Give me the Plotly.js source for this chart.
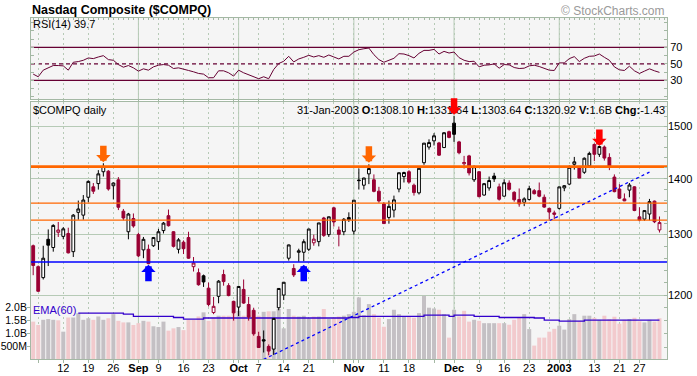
<!DOCTYPE html>
<html>
<head>
<meta charset="utf-8">
<script src="https://cdn.plot.ly/plotly-3.0.1.min.js"></script>
<style>
html,body{margin:0;padding:0;background:#ffffff;}
#chart{width:697px;height:376px;}
</style>
</head>
<body>
<div id="chart"></div>
<script>
// ---------------- data ----------------
const dates = [
'2002-08-02','2002-08-05','2002-08-06','2002-08-07','2002-08-08','2002-08-09',
'2002-08-12','2002-08-13','2002-08-14','2002-08-15','2002-08-16',
'2002-08-19','2002-08-20','2002-08-21','2002-08-22','2002-08-23',
'2002-08-26','2002-08-27','2002-08-28','2002-08-29','2002-08-30',
'2002-09-03','2002-09-04','2002-09-05','2002-09-06',
'2002-09-09','2002-09-10','2002-09-11','2002-09-12','2002-09-13',
'2002-09-16','2002-09-17','2002-09-18','2002-09-19','2002-09-20',
'2002-09-23','2002-09-24','2002-09-25','2002-09-26','2002-09-27',
'2002-09-30','2002-10-01','2002-10-02','2002-10-03','2002-10-04',
'2002-10-07','2002-10-08','2002-10-09','2002-10-10','2002-10-11',
'2002-10-14','2002-10-15','2002-10-16','2002-10-17','2002-10-18',
'2002-10-21','2002-10-22','2002-10-23','2002-10-24','2002-10-25',
'2002-10-28','2002-10-29','2002-10-30','2002-10-31','2002-11-01',
'2002-11-04','2002-11-05','2002-11-06','2002-11-07','2002-11-08',
'2002-11-11','2002-11-12','2002-11-13','2002-11-14','2002-11-15',
'2002-11-18','2002-11-19','2002-11-20','2002-11-21','2002-11-22',
'2002-11-25','2002-11-26','2002-11-27','2002-11-29',
'2002-12-02','2002-12-03','2002-12-04','2002-12-05','2002-12-06',
'2002-12-09','2002-12-10','2002-12-11','2002-12-12','2002-12-13',
'2002-12-16','2002-12-17','2002-12-18','2002-12-19','2002-12-20',
'2002-12-23','2002-12-24','2002-12-26','2002-12-27',
'2002-12-30','2002-12-31','2003-01-02','2003-01-03',
'2003-01-06','2003-01-07','2003-01-08','2003-01-09','2003-01-10',
'2003-01-13','2003-01-14','2003-01-15','2003-01-16','2003-01-17',
'2003-01-21','2003-01-22','2003-01-23','2003-01-24',
'2003-01-27','2003-01-28','2003-01-29','2003-01-30','2003-01-31'];

const open = [
1281,1246,1228,1292,1278,1304,1297,1302,1271,1339,
1334,1366,1385,1391,1413,1414,1387,1398,1341,1305,
1328,1300,1274,1275,1281,1288,1307,1333,1305,1275,
1287,1295,1246,1236,1231,1211,1172.5,1198,1233,1215,
1190,1181,1209,1185,1176,1136,1131,1121,1117,1180,
1200,1260,1243,1270,1270,1275,1286,1288,1329,1300,
1347,1308,1305,1326,1306,1397.5,1388,1409,1398,1377,
1354,1330,1343,1381,1404,1413,1388,1374,1430,1460,
1472,1468,1459,1490,1507,1470,1428,1443,1398,1413,
1370,1383,1405,1385,1368,1392,1375,1362,1357,1362,
1378,1378,1366,1346,1338,1346,1383,1390,1427,1422,
1412,1424,1465,1446,1460,1440,1403,1381,1363,1379,
1385,1331,1327,1336,1359,1308.10];

const high = [
1283,1248,1281,1309,1318,1322,1313,1312,1336,1360,
1370,1397,1392,1416,1429,1416,1393,1403,1345,1338,
1337,1303,1296,1283,1296,1310,1322,1344,1306,1294,
1290,1305,1262,1243,1233,1220,1197,1224,1241,1219,
1191,1214,1225,1197,1180,1143,1145,1124,1163.5,1210.5,
1221,1283,1250,1276,1292,1310,1300,1320.5,1331,1331.5,
1349,1314,1329,1339,1361,1419,1402,1427,1408,1385,
1357,1360,1369,1411.5,1413,1416,1391,1420,1468,1475,
1487,1470,1489,1492,1521.4,1472,1443,1445,1425,1414,
1392,1404,1411,1391,1399,1397,1377,1382,1366,1387,
1381,1393,1371,1347,1342,1385,1388,1425,1441,1424,
1440,1451,1467,1462,1463,1448,1408,1390,1373,1392,
1386,1348,1343,1363,1360,1331.64];

const low = [
1232,1205,1225,1247,1271,1296,1292,1268,1262,1326,
1326,1357,1372,1380,1404,1378,1362,1343,1325,1292,
1312,1262,1260,1250,1279,1274,1302,1314,1278,1268,
1267,1259,1238,1215,1213,1182,1170,1187,1215,1198,
1160,1167,1186,1160,1137,1119,1112,1108,1108.5,1176,
1192,1256,1229,1254,1255,1272,1281,1280,1296,1296,
1314,1280,1299,1322,1300,1380,1380,1390,1375,1356,
1319,1319,1330,1375,1393,1391,1369,1371,1426,1455,
1463,1443,1458,1477,1470,1446,1419,1406,1394,1366,
1369,1378,1394,1360,1367,1378,1358,1349,1350,1360,
1371,1366,1347,1326,1327,1344,1377,1388,1417,1401,
1409,1420,1433,1441,1434,1416,1375,1363,1359,1366,
1341,1323,1324,1325,1320,1303.64];

const close = [
1248,1206,1260,1282,1316,1308,1310,1269,1334,1345,
1361,1395,1377,1409,1423,1381,1392,1348,1329,1336,
1315,1264,1292,1251,1295,1305,1320,1315.5,1280,1291,
1276,1260,1252,1216.5,1221,1185,1182.2,1222.3,1221.6,1199.2,
1172,1213.7,1187.3,1165.6,1139.9,1119.4,1129.2,1114.1,1163.4,1210.5,
1220.5,1282.4,1232.4,1272.3,1287.9,1309.7,1292.3,1320.3,1298.7,1331.1,
1322,1300.5,1326.7,1329.8,1360.7,1396.5,1401.2,1419,1376.7,1359.3,
1319.2,1349.6,1361.3,1411.1,1411.5,1393.7,1374.5,1419.4,1467.5,1468.7,
1481.9,1444.4,1487.9,1478.8,1484.8,1449,1430.4,1410.8,1422.4,1367.1,
1390.8,1396.6,1399.6,1362.4,1392.6,1380.4,1361.5,1354.1,1363.1,1381.7,
1372.5,1367.9,1348.3,1339.5,1335.5,1384.9,1387.1,1421.3,1431.6,1401.1,
1438.5,1447.7,1446,1461,1438.8,1423.8,1376.2,1364.3,1359.5,1388.3,
1342.2,1325.3,1342.1,1358.1,1322.35,1320.92];

const priorClose = 1280.0;   // close of the session before the first bar

// volume in billions of shares
const volume = [
1.45,1.32,1.52,1.55,1.52,1.50,1.06,1.61,1.61,1.78,
1.52,1.58,1.52,1.65,1.52,1.58,1.74,1.48,1.42,1.42,
1.32,1.39,1.48,1.45,1.27,1.24,1.45,1.10,1.19,1.24,
1.12,1.52,1.52,1.65,1.81,1.48,1.61,1.68,1.68,1.68,
1.81,1.87,1.68,1.70,1.87,1.68,1.83,1.85,1.85,1.94,
1.19,1.94,1.68,1.65,1.68,1.58,1.65,1.65,1.94,1.55,
1.61,1.65,1.68,1.74,1.83,2.39,1.70,2.13,1.74,1.60,
1.25,1.55,1.91,1.74,1.65,1.65,1.60,1.78,2.45,1.99,
1.96,1.91,1.74,0.83,1.91,1.65,1.87,1.45,1.52,1.48,
1.39,1.39,1.39,1.39,1.39,1.33,1.52,1.61,1.74,1.16,
0.52,0.83,0.83,1.06,1.17,1.29,1.14,1.55,1.74,1.48,
1.68,1.68,1.60,1.52,1.68,1.55,1.64,1.37,1.52,1.55,
1.60,1.46,1.42,1.52,1.45,1.58];

// RSI(14)
const rsi = [
37.6,34.4,42.4,45.6,48,48,47.6,42.4,52,52.8,
54.4,57.2,56.4,58.4,60,55.2,54.4,49.2,46,48,
45.2,41.2,44,42.4,46.4,48.4,49.2,48.4,44.4,45.2,
43.2,42,40.4,38.4,37.6,33.2,33.2,41.6,41.6,39.2,
35.2,42.4,39.2,36.8,34.4,32,34.4,32,43.2,50.4,
53.2,59.2,52.4,56,58,60.4,58.4,60,58,60.8,
58.4,56,59.2,59.2,64.4,67.2,68.4,69.2,61.2,55.2,
52,54,56.8,62.4,62,60,57.2,62.8,66.4,66.4,
67.6,62,65.2,63.2,64.4,57.6,54.4,52.8,53.2,46.4,
48.4,48.8,50,44.8,49.2,48.8,45.6,44.4,44.8,47.6,
48.4,46.8,44.4,42.4,42,51.2,51.2,56.4,58.8,52.8,
56.8,59.2,59.6,62,58,54.4,46.4,42.8,42,47.2,
41.6,38.4,41.2,44,41.6,39.7];

// EMA(60) of volume, read as a stepped line (billions)
const emaDates  = ['2002-08-15','2002-08-28','2002-08-30','2002-09-12','2002-09-16','2002-09-20',
                   '2002-10-31','2002-11-04','2002-11-21','2002-11-29','2002-12-02','2002-12-06',
                   '2002-12-13','2002-12-24','2002-12-27','2003-01-02','2003-01-09','2003-01-31'];
const emaValues = [1.78,1.74,1.65,1.61,1.55,1.59,1.61,1.65,1.705,1.65,1.705,1.65,1.61,1.59,1.51,1.47,1.51,1.51];

// x-axis ticks / grid
const tickDates  = ['2002-08-05','2002-08-12','2002-08-19','2002-08-26','2002-09-03','2002-09-09','2002-09-16',
                    '2002-09-23','2002-09-30','2002-10-01','2002-10-07','2002-10-14','2002-10-21','2002-10-28',
                    '2002-11-01','2002-11-04','2002-11-11','2002-11-18','2002-11-25','2002-12-02','2002-12-09',
                    '2002-12-16','2002-12-23','2002-12-30','2003-01-02','2003-01-06','2003-01-13','2003-01-21','2003-01-27'];
const tickLabels = ['','12','19','26','<b>Sep</b>','9','16',
                    '23','','<b>Oct</b>','7','14','21','',
                    '<b>Nov</b>','','11','18','','<b>Dec</b>','9',
                    '16','23','','<b>2003</b>','','13','21','27'];
const monthStartDates = ['2002-09-03','2002-10-01','2002-11-01','2002-12-02','2003-01-02'];

const priceTickVals   = [1200,1300,1400,1500];
const priceTickLabels = ['1200','1300','1400','1500'];
const priceMinorTicks = [1120,1140,1160,1180,1200,1220,1240,1260,1280,1300,1320,1340,1360,1380,
                         1400,1420,1440,1460,1480,1500,1520,1540];
const volTickVals   = [0.5,1,1.5,2];
const volTickLabels = ['500M','1.0B','1.5B','2.0B'];
const rsiTickVals   = [10,20,30,40,50,60,70,80,90,100];
const rsiTickLabels = ['','','30','','50','','70','','',''];
const rsiLevels     = [70,50,30];

// annotation lines
const orangeLevels = [1422.6,1355.5,1325.3];
const orangeWidths = [2.6,1.3,1.3];
const blueLevels   = [1253.7];
const trendDates   = ['2002-10-08','2003-01-29'];
const trendPrices  = [1101.9,1412.3];

// arrows (tip position)
const arrowDates  = ['2002-08-22','2002-11-06','2002-12-02','2003-01-14','2002-09-05','2002-10-18'];
const arrowPrices = [1431,1430,1524,1462,1249,1249];
const arrowDirs   = ['down','down','down','down','up','up'];
const arrowColors = ['#ff6600','#ff6600','#ff0000','#ff0000','#0000ff','#0000ff'];

// ---------------- styling ----------------
const FONT = 'Liberation Sans, Arial, sans-serif';
const GRID = '#b6cab6';
const BORDER = '#a4b8a4';
const RED = '#990033';
const BLACK = '#000000';
const RSI_COLOR = '#660033';
const VOL_UP = '#c4c0c4';
const VOL_DN = '#f2cacd';

const n = dates.length;
const idx = dates.map((d, i) => i);
const pos = d => dates.indexOf(d);
const prevClose = close.map((c, i) => (i === 0 ? priorClose : close[i - 1]));
const upDay = close.map((c, i) => c >= prevClose[i]);
const pick = (arr, cond) => arr.filter((v, i) => cond(i));
const xRange = [-0.44, n + 0.5];

function candles(cond, color) {
  return {
    type: 'candlestick', xaxis: 'x', yaxis: 'y2',
    x: pick(idx, cond), open: pick(open, cond), high: pick(high, cond),
    low: pick(low, cond), close: pick(close, cond),
    increasing: {line: {color: color, width: 1}, fillcolor: '#ffffff'},
    decreasing: {line: {color: color, width: 1}, fillcolor: color},
    whiskerwidth: 0, hoverinfo: 'skip', showlegend: false
  };
}

const traces = [];
traces.push({
  type: 'bar', xaxis: 'x', yaxis: 'y', x: idx, y: volume,
  marker: {color: upDay.map(u => (u ? VOL_UP : VOL_DN)), line: {width: 0}},
  hoverinfo: 'skip', showlegend: false
});
traces.push({
  type: 'scatter', mode: 'lines', xaxis: 'x', yaxis: 'y',
  x: emaDates.map(pos), y: emaValues, line: {color: '#3300cc', width: 1.3, shape: 'hv'},
  hoverinfo: 'skip', showlegend: false
});
traces.push(candles(i => upDay[i], BLACK));
traces.push(candles(i => !upDay[i], RED));
orangeLevels.forEach((lv, j) => traces.push({
  type: 'scatter', mode: 'lines', xaxis: 'x', yaxis: 'y2', x: [-1, n + 1], y: [lv, lv],
  line: {color: '#ff6600', width: orangeWidths[j]}, hoverinfo: 'skip', showlegend: false
}));
blueLevels.forEach(lv => traces.push({
  type: 'scatter', mode: 'lines', xaxis: 'x', yaxis: 'y2', x: [-1, n + 1], y: [lv, lv],
  line: {color: '#0000ff', width: 1.3}, hoverinfo: 'skip', showlegend: false
}));
traces.push({
  type: 'scatter', mode: 'lines', xaxis: 'x', yaxis: 'y2',
  x: trendDates.map(pos), y: trendPrices,
  line: {color: '#0000ff', width: 1.3, dash: '3px,3px'}, hoverinfo: 'skip', showlegend: false
});
traces.push({
  type: 'scatter', mode: 'lines', xaxis: 'x', yaxis: 'y3', x: idx, y: rsi,
  line: {color: RSI_COLOR, width: 1}, hoverinfo: 'skip', showlegend: false
});
traces.push({
  type: 'scatter', mode: 'lines', xaxis: 'x2', yaxis: 'y3', x: [0], y: [null],
  hoverinfo: 'skip', showlegend: false
});

// shapes
const shapes = [];
monthStartDates.forEach(m => {
  ['y domain', 'y3 domain'].forEach(yr => shapes.push({
    type: 'line', xref: 'x', yref: yr, x0: pos(m), x1: pos(m), y0: 0, y1: 1,
    line: {color: GRID, width: 1}, layer: 'below'
  }));
});
rsiLevels.forEach(lv => shapes.push({
  type: 'line', xref: 'x domain', yref: 'y3', x0: 0, x1: 1, y0: lv, y1: lv,
  line: {color: RSI_COLOR, width: 1.3, dash: lv === 50 ? '4px,3px' : 'solid'}, layer: 'below'
}));

// text
const MONTHS = ['Jan','Feb','Mar','Apr','May','Jun','Jul','Aug','Sep','Oct','Nov','Dec'];
const last = n - 1;
const dp = dates[last].split('-');
const dateTxt = `${parseInt(dp[2], 10)}-${MONTHS[parseInt(dp[1], 10) - 1]}-${dp[0]}`;
const chg = close[last] - close[last - 1];
const header = `${dateTxt} <b>O:</b>${open[last].toFixed(2)} <b>H:</b>${high[last].toFixed(2)} ` +
  `<b>L:</b>${low[last].toFixed(2)} <b>C:</b>${close[last].toFixed(2)} ` +
  `<b>V:</b>${volume[last].toFixed(1)}B <b>Chg:</b>${chg.toFixed(2)}`;

const annotations = [
  {text: '<b>Nasdaq Composite ($COMPQ)</b>', xref: 'paper', yref: 'paper', x: -0.002, y: 1.022,
   xanchor: 'left', yanchor: 'middle', showarrow: false, font: {size: 12.5, color: '#000'}},
  {text: '© StockCharts.com', xref: 'paper', yref: 'paper', x: 1.0, y: 1.0205,
   xanchor: 'right', yanchor: 'middle', showarrow: false, font: {size: 12, color: '#9a9a9a'}},
  {text: `RSI(14) ${rsi[last].toFixed(1)}`, xref: 'paper', yref: 'paper', x: 0, y: 0.981,
   xanchor: 'left', yanchor: 'middle', showarrow: false, font: {size: 11, color: '#000'}},
  {text: '$COMPQ daily', xref: 'paper', yref: 'paper', x: 0, y: 0.7302,
   xanchor: 'left', yanchor: 'middle', showarrow: false, font: {size: 11, color: '#000'}},
  {text: header, xref: 'paper', yref: 'paper', x: 1.0, y: 0.7302,
   xanchor: 'right', yanchor: 'middle', showarrow: false, font: {size: 11, color: '#000'}},
  {text: 'EMA(60)', xref: 'paper', yref: 'paper', x: 0, y: 0.1437,
   xanchor: 'left', yanchor: 'middle', showarrow: false, font: {size: 11, color: '#3300cc'}}
];
arrowDates.forEach((d, j) => annotations.push({
  x: pos(d), y: Math.log10(arrowPrices[j]), xref: 'x', yref: 'y2', text: '',
  showarrow: true, ax: 0, ay: arrowDirs[j] === 'down' ? -18 : 18,
  arrowhead: 1, arrowsize: 0.37, arrowwidth: 6.5, arrowcolor: arrowColors[j], standoff: 0
}));

const layout = {
  width: 697, height: 376,
  margin: {l: 31, r: 30, t: 18, b: 17, pad: 0},
  paper_bgcolor: '#ffffff', plot_bgcolor: '#f5f5f5',
  showlegend: false, bargap: 0.2, boxgap: 0.2, boxmode: 'overlay',
  font: {family: FONT, size: 11, color: '#000'},
  xaxis: {
    type: 'linear', range: xRange, domain: [0, 1], anchor: 'y',
    tickmode: 'array', tickvals: tickDates.map(pos), ticktext: tickLabels,
    showgrid: true, gridcolor: GRID, griddash: '2px,3px', gridwidth: 1,
    ticks: 'outside', ticklen: 3, tickcolor: BORDER, ticklabelstandoff: -4,
    showline: true, linecolor: BORDER, linewidth: 1, mirror: 'all', zeroline: false,
    tickfont: {size: 11, color: '#000'}, rangeslider: {visible: false}, fixedrange: true
  },
  xaxis2: {
    type: 'linear', range: xRange, overlaying: 'x', anchor: 'y3', side: 'top',
    tickmode: 'linear', tick0: 0, dtick: 1, ticks: 'inside', ticklen: 2, tickcolor: BORDER,
    showticklabels: false, showgrid: false, showline: false, zeroline: false, fixedrange: true
  },
  yaxis: {
    domain: [0, 0.7537], range: [0, 9.97], side: 'left', anchor: 'x',
    tickmode: 'array', tickvals: volTickVals, ticktext: volTickLabels,
    ticks: 'outside', ticklen: 3, tickcolor: BORDER, ticklabelstandoff: -2,
    showgrid: false, zeroline: false,
    showline: true, linecolor: BORDER, mirror: true, tickfont: {size: 10.5, color: '#000'}, fixedrange: true
  },
  yaxis2: {
    overlaying: 'y', side: 'right', anchor: 'x', type: 'log',
    range: [Math.log10(1102.5), Math.log10(1549.8)],
    tickmode: 'array', tickvals: priceTickVals, ticktext: priceTickLabels,
    showgrid: true, gridcolor: GRID, gridwidth: 1, ticks: '', zeroline: false, showline: false,
    minor: {tickmode: 'array', tickvals: priceMinorTicks, ticks: 'inside', ticklen: 3, tickcolor: BORDER, showgrid: false},
    tickfont: {size: 11, color: '#000'}, fixedrange: true
  },
  yaxis3: {
    domain: [0.762, 1], range: [7.2, 105.7], side: 'right', anchor: 'x',
    tickmode: 'array', tickvals: rsiTickVals, ticktext: rsiTickLabels,
    ticks: 'inside', ticklen: 3, tickcolor: BORDER, mirror: 'ticks',
    showline: true, linecolor: BORDER, showgrid: false, zeroline: false,
    tickfont: {size: 11, color: '#000'}, fixedrange: true
  },
  shapes: shapes,
  annotations: annotations
};

Plotly.newPlot('chart', traces, layout, {staticPlot: true, displayModeBar: false});
</script>
</body>
</html>
